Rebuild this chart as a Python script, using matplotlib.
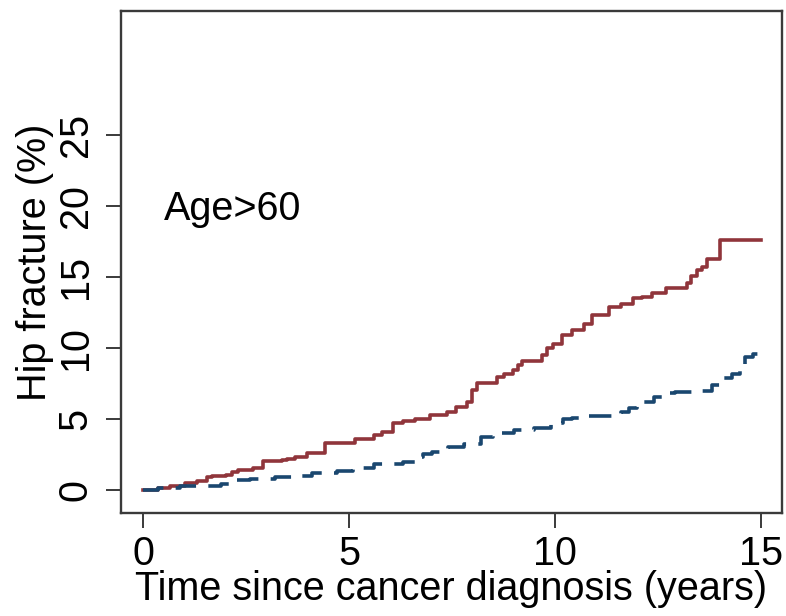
import matplotlib
matplotlib.use("Agg")
import matplotlib.pyplot as plt

# Cumulative incidence, cancer patients (solid, maroon)
red_t = [0, 0.37, 0.66, 1.02, 1.3, 1.55, 1.67, 2.0, 2.15, 2.31, 2.67, 2.91, 3.37, 3.49,
         3.69, 3.97, 4.42, 5.15, 5.6, 5.79, 6.07, 6.3, 6.6, 6.97, 7.37, 7.6, 7.86, 7.98,
         8.1, 8.58, 8.75, 8.99, 9.1, 9.19, 9.68, 9.8, 9.96, 10.16, 10.4, 10.7, 10.9, 11.3,
         11.6, 11.9, 12.1, 12.35, 12.7, 13.2, 13.3, 13.44, 13.56, 13.68, 14.0, 15.0]
red_v = [0, 0.16, 0.3, 0.47, 0.61, 0.89, 0.99, 1.06, 1.3, 1.4, 1.52, 2.04, 2.11, 2.2,
         2.3, 2.63, 3.29, 3.57, 3.87, 4.1, 4.7, 4.88, 5.0, 5.28, 5.5, 5.87, 6.2, 7.04,
         7.5, 7.98, 8.2, 8.45, 8.8, 9.1, 9.5, 9.98, 10.3, 10.9, 11.27, 11.67, 12.3, 12.9,
         13.07, 13.5, 13.6, 13.85, 14.25, 14.55, 15.1, 15.5, 15.7, 16.25, 17.6, 17.6]

# Comparison cohort (dashed, navy)
blue_t = [0, 0.37, 0.9, 1.9, 2.1, 2.6, 3.2, 3.8, 4.1, 4.7, 5.1, 5.6, 6.3, 6.6, 6.8, 7.0,
          7.4, 7.8, 8.2, 8.5, 8.7, 9.0, 9.5, 9.9, 10.2, 10.4, 10.8, 11.6, 11.8, 12.0,
          12.4, 12.7, 12.9, 13.4, 13.8, 14.1, 14.3, 14.5, 14.6, 14.8, 14.95, 15.0]
blue_v = [0, 0.16, 0.28, 0.42, 0.7, 0.8, 0.94, 0.99, 1.22, 1.36, 1.52, 1.8, 2.0, 2.35,
          2.55, 2.7, 3.05, 3.24, 3.7, 3.85, 4.0, 4.2, 4.36, 4.7, 5.0, 5.1, 5.23, 5.5,
          5.8, 6.2, 6.57, 6.8, 6.9, 7.0, 7.4, 7.9, 8.2, 8.45, 9.4, 9.55, 9.86, 9.86]

x_ticks = [0, 5, 10, 15]
y_ticks = [0, 5, 10, 15, 20, 25]

plt.rcParams['font.family'] = ['Liberation Sans', 'DejaVu Sans']
FS = 28.5

fig = plt.figure(figsize=(7.86, 6.16), dpi=100)
ax = fig.add_axes([121/786, 1-513/616, (782-121)/786, (513-11)/616])

ax.plot(red_t, red_v, drawstyle='steps-post', color='#90353B', lw=2.6)
ln, = ax.plot(blue_t, blue_v, drawstyle='steps-post', color='#1A476F', lw=2.6)
ln.set_dashes([6.2, 3.4])

ax.set_xlim(-0.54, 15.51)
ax.set_ylim(-1.62, 33.73)
ax.set_xticks(x_ticks)
ax.set_yticks(y_ticks)

for s in ax.spines.values():
    s.set_color('#3a3a3a')
    s.set_linewidth(1.7)

ax.tick_params(axis='both', length=11, width=1.4, color='#3a3a3a', labelsize=FS,
               labelcolor='black')
ax.tick_params(axis='x', pad=5)
ax.tick_params(axis='y', pad=8)
for lab in ax.get_yticklabels():
    lab.set_rotation(90)
    lab.set_va('center')

ax.set_xlabel('Time since cancer diagnosis (years)', fontsize=FS, labelpad=-2)
ax.set_ylabel('Hip fracture (%)', fontsize=FS, labelpad=2)

ax.text(0.5, 19.0, 'Age>60', fontsize=FS, va='baseline', ha='left')

fig.savefig('out.png', dpi=100)
